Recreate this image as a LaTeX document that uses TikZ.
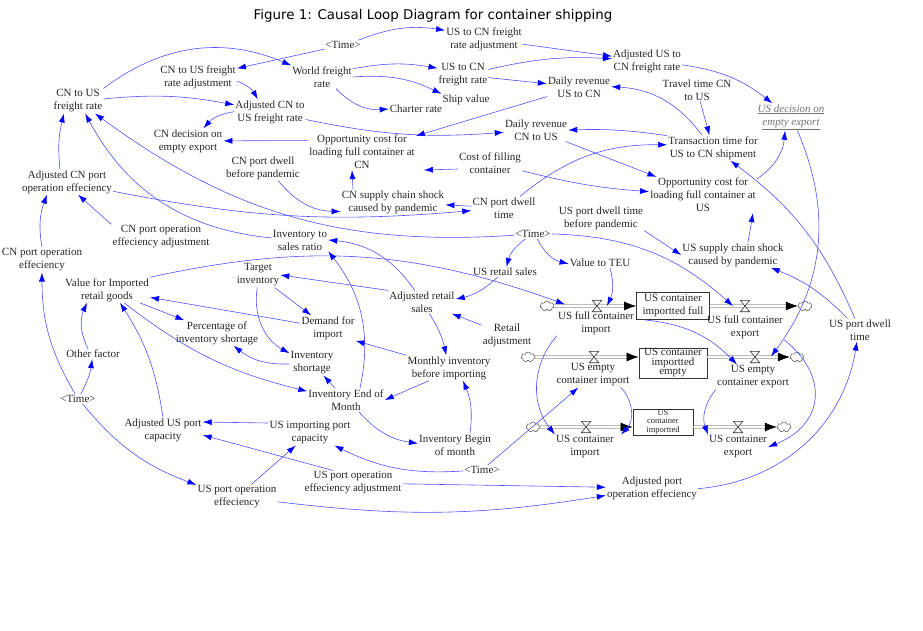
\documentclass[tikz,border=0pt]{standalone}
\usepackage{fontspec}
\setmainfont{Liberation Serif}
\newfontfamily\titlefont{DejaVu Sans}
\usetikzlibrary{arrows.meta,shapes.symbols}
\definecolor{linkblue}{RGB}{80,80,255}
\definecolor{tipblue}{RGB}{0,0,255}
\tikzset{
	var/.style={align=center, inner sep=1pt, font=\fontsize{11}{13}\selectfont, text=black!85},
	link/.style={draw=linkblue, line width=0.6pt, -{Latex[length=9pt,width=6pt,color=tipblue]}},
	stock/.style={draw=black!80, line width=0.7pt, align=center, inner sep=0.5pt, text=black!85},
	pipe/.style={draw=black!75, double=white, double distance=1.6pt, line width=0.6pt, -{Latex[length=12pt,width=9pt,color=black]}},
	sky/.style={cloud, cloud puffs=7, cloud ignores aspect, draw=black!70, fill=white, minimum width=14pt, minimum height=10pt, inner sep=0pt, line width=0.5pt}
}
\newcommand{\flowvalve}[3]{\node[inner sep=0pt, minimum width=9pt, minimum height=11pt] (#1) at (#2,#3) {}; \draw[black!80, fill=white, line width=0.6pt] (#1.north west) -- (#1.north east) -- (#1.south west) -- (#1.south east) -- cycle;}
\begin{document}
\begin{tikzpicture}[x=1pt, y=-1pt]
	\useasboundingbox (0,0) rectangle (923,630);
	\node[font=\titlefont\fontsize{13.4}{15}\selectfont] (title) at (433,16) {Figure 1: Causal Loop Diagram for container shipping};
	\node[var] (cnusrate) at (78,101) {CN to US\\freight rate};
	\node[var] (cnusadj) at (198,77) {CN to US freight\\rate adjustment};
	\node[var] (timea) at (343,45) {\textless Time\textgreater};
	\node[var] (worldrate) at (322,77) {World freight\\rate};
	\node[var] (uscnadj) at (484,39) {US to CN freight\\rate adjustment};
	\node[var] (uscnrate) at (463,75) {US to CN\\freight rate};
	\node[var] (shipvalue) at (466,100) {Ship value};
	\node[var] (charter) at (416,109) {Charter rate};
	\node[var] (adjuscn) at (647,61) {Adjusted US to\\CN freight rate};
	\node[var] (revuscn) at (579,87) {Daily revenue\\US to CN};
	\node[var] (adjcnus) at (270,112) {Adjusted CN to\\US freight rate};
	\node[var] (travel) at (697,90) {Travel time CN\\to US};
	\node[var, text=black!55, font=\fontsize{11}{13}\selectfont\itshape] (usdecision) at (791,117) {\underline{US decision on}\\\underline{empty export}};
	\node[var] (cndecision) at (188,141) {CN decision on\\empty export};
	\node[var] (oppcn) at (362,152) {Opportunity cost for\\loading full container at\\CN};
	\node[var] (revcnus) at (536,130) {Daily revenue\\CN to US};
	\node[var] (transtime) at (713,148) {Transaction time for\\US to CN shipment};
	\node[var] (cndwellpre) at (263,168) {CN port dwell\\before pandemic};
	\node[var] (fillcost) at (490,163) {Cost of filling\\container};
	\node[var] (adjcnport) at (67,182) {Adjusted CN port\\operation effeciency};
	\node[var] (oppus) at (703,195) {Opportunity cost for\\loading full container at\\US};
	\node[var] (cnshock) at (393,202) {CN supply chain shock\\caused by pandemic};
	\node[var] (cndwell) at (504,208) {CN port dwell\\time};
	\node[var] (usdwellpre) at (601,218) {US port dwell time\\before pandemic};
	\node[var] (timeb) at (533,234) {\textless Time\textgreater};
	\node[var] (cnportadj) at (161,237) {CN port operation\\effeciency adjustment};
	\node[var] (invsales) at (300,240) {Inventory to\\sales ratio};
	\node[var] (usshock) at (733,255) {US supply chain shock\\caused by pandemic};
	\node[var] (cnport) at (42,260) {CN port operation\\effeciency};
	\node[var] (valteu) at (600,263) {Value to TEU};
	\node[var] (usretail) at (505,272) {US retail sales};
	\node[var] (target) at (258,275) {Target\\inventory};
	\node[var] (valueimp) at (107,290) {Value for Imported\\retail goods};
	\node[var] (adjretail) at (422,302) {Adjusted retail\\sales};
	\node[var] (demand) at (328,328) {Demand for\\import};
	\node[var] (pctshort) at (217,333) {Percentage of\\inventory shortage};
	\node[var] (retailadj) at (507,335) {Retail\\adjustment};
	\node[var] (usdwell) at (860,330) {US port dwell\\time};
	\node[var] (other) at (93,354) {Other factor};
	\node[var] (invshort) at (312,363) {Inventory\\shortage};
	\node[var] (monthly) at (449,368) {Monthly inventory\\before importing};
	\node[var] (timec) at (78,399) {\textless Time\textgreater};
	\node[var] (invend) at (346,400) {Inventory End of\\Month};
	\node[var] (adjusport) at (163,430) {Adjusted US port\\capacity};
	\node[var] (usimpcap) at (310,433) {US importing port\\capacity};
	\node[var] (invbegin) at (455,445) {Inventory Begin\\of month};
	\node[var] (timed) at (482,470) {\textless Time\textgreater};
	\node[var] (usportadj) at (353,483) {US port operation\\effeciency adjustment};
	\node[var] (adjportop) at (652,488) {Adjusted port\\operation effeciency};
	\node[var] (usportop) at (237,497) {US port operation\\effeciency};
	\node[stock, minimum width=73pt, minimum height=27pt, font=\fontsize{11}{13}\selectfont] (stfull) at (673,306) {US container\\importted full};
	\node[stock, minimum width=68pt, minimum height=30pt, font=\fontsize{11}{9.5}\selectfont] (stempty) at (673,363) {US container\\importted\\empty};
	\node[stock, minimum width=60pt, minimum height=26pt, font=\fontsize{8.5}{8.5}\selectfont] (stall) at (663,422) {US\\container\\importted};
	\node[var] (fullimp) at (596,323) {US full container\\import};
	\node[var] (fullexp) at (745,327) {US full container\\export};
	\node[var] (emptyimp) at (593,375) {US empty\\container import};
	\node[var] (emptyexp) at (753,377) {US empty\\container export};
	\node[var] (contimp) at (585,447) {US container\\import};
	\node[var] (contexp) at (738,447) {US container\\export};
	\node[sky] (ca) at (547,306) {};
	\node[sky] (cb) at (805,306) {};
	\node[sky] (cc) at (528,357) {};
	\node[sky] (cd) at (797,357) {};
	\node[sky] (ce) at (533,427) {};
	\node[sky] (cf) at (784,427) {};
	\draw[pipe] (ca.east) -- (stfull.west);
	\draw[pipe] (stfull.east) -- (cb.west);
	\draw[pipe] (cc.east) -- ([yshift=6pt]stempty.west);
	\draw[pipe] ([yshift=6pt]stempty.east) -- (cd.west);
	\draw[pipe] (ce.east) -- ([yshift=-5pt]stall.west);
	\draw[pipe] ([yshift=-5pt]stall.east) -- (cf.west);
	\flowvalve{va}{597}{306}
	\flowvalve{vb}{745}{306}
	\flowvalve{vc}{594}{357}
	\flowvalve{vd}{755}{357}
	\flowvalve{ve}{586}{427}
	\flowvalve{vf}{738}{427}
	\draw[link] (timea) -- (cnusadj);
	\draw[link] (timea) to[bend left=15] (uscnadj);
	\draw[link] (cnusrate.north east) to[bend left=30] (worldrate.north west);
	\draw[link] (cnusrate) to[bend left=8] (adjcnus);
	\draw[link] (cnusadj) to[bend left=20] (adjcnus);
	\draw[link] (adjcnus) to[bend right=20] (cndecision);
	\draw[link] (oppcn.168) -- (cndecision);
	\draw[link] (adjcnus) to[bend right=8] (revcnus);
	\draw[link] (worldrate.15) to[bend left=10] (uscnrate.165);
	\draw[link] (worldrate.east) to[bend left=15] (shipvalue.north west);
	\draw[link] ([xshift=14pt]worldrate.south) to[bend right=25] (charter.west);
	\draw[link] (uscnadj) -- (adjuscn);
	\draw[link] (uscnrate) to[bend left=8] (adjuscn);
	\draw[link] (uscnrate) -- (revuscn);
	\draw[link] (revuscn) -- (oppcn);
	\draw[link] (transtime) to[bend right=25] (revuscn);
	\draw[link] (transtime.165) to[bend right=5] (revcnus.east);
	\draw[link] (travel) -- (transtime);
	\draw[link] (adjuscn) to[bend left=15] (usdecision);
	\draw[link] (oppus) to[bend right=25] (usdecision);
	\draw[link] (usdecision) to[bend left=30] ([xshift=18pt,yshift=8pt]emptyexp.north);
	\draw[link] (revcnus) -- (oppus);
	\draw[link] ([yshift=-6pt]fillcost.west) -- ([xshift=8pt,yshift=-18pt]oppcn.east);
	\draw[link] (fillcost) to[bend right=5] (oppus);
	\draw[link] (cndwell) to[bend left=20] (transtime);
	\draw[link] ([xshift=-40pt]cnshock.north) -- ([xshift=-10pt]oppcn.south);
	\draw[link] (cndwell) -- (cnshock);
	\draw[link] (cndwellpre) to[bend right=25] (cnshock);
	\draw[link] (adjcnport) to[bend right=8] (cndwell);
	\draw[link] (timeb) to[bend left=20] (cnusrate);
	\draw[link] (invsales) to[bend left=28] (cnusrate);
	\draw[link] ([xshift=-7pt]adjcnport.north) to[bend left=10] ([xshift=-14pt]cnusrate.south);
	\draw[link] (cnport.north) to[bend left=15] ([xshift=-20pt]adjcnport.south);
	\draw[link] (cnportadj.north west) -- ([xshift=11pt]adjcnport.south);
	\draw[link] (timec) to[bend left=15] (cnport);
	\draw[link] (timec) to[bend right=10] (other);
	\draw[link] ([xshift=-5pt]other.north) to[bend left=25] ([xshift=-20pt]valueimp.south);
	\draw[link] (adjusport.north) to[bend right=12] ([xshift=13pt]valueimp.south);
	\draw[link] (valueimp) -- (pctshort);
	\draw[link] (valueimp) to[bend right=12] (invend);
	\draw[link] (demand) -- (valueimp);
	\draw[link] (valueimp.north east) to[bend left=16] ([xshift=8pt,yshift=6pt]fullimp.north west);
	\draw[link] (adjretail.north west) -- (target.east);
	\draw[link] (target) -- (demand);
	\draw[link] (target) to[bend right=35] (invshort);
	\draw[link] (invshort) to[bend left=20] (pctshort);
	\draw[link] (invend) -- (invshort);
	\draw[link] ([xshift=14pt]invend.north) to[bend right=25] (invsales.south east);
	\draw[link] (adjretail) to[bend right=25] (invsales.east);
	\draw[link] (invend) to[bend right=20] (invbegin);
	\draw[link] ([xshift=-20pt]monthly.south) -- (invend.east);
	\draw[link] (monthly.north west) -- (demand.south east);
	\draw[link] (adjretail) to[bend left=10] (monthly);
	\draw[link] ([xshift=15pt]invbegin.north) to[bend right=15] ([xshift=14pt]monthly.south);
	\draw[link] (retailadj) -- (adjretail);
	\draw[link] (usretail) to[bend left=15] (adjretail);
	\draw[link] (timeb) to[bend right=20] (usretail);
	\draw[link] (timeb) to[bend right=25] (valteu);
	\draw[link] ([xshift=10pt]valteu.south) to[bend left=20] ([xshift=10pt]va.center);
	\draw[link] (timeb) to[bend left=20] ([xshift=-12pt]vb.center);
	\draw[link] (usdwellpre.south east) -- (usshock.west);
	\draw[link] ([xshift=15pt]usshock.north) -- ([xshift=50pt]oppus.south);
	\draw[link] (usdwell) to[bend right=12] (usshock);
	\draw[link] (usdwell) to[bend right=15] (transtime);
	\draw[link] (adjportop) to[bend right=38] (usdwell);
	\draw[link] (usportop) to[bend right=8] (adjportop);
	\draw[link] (usportadj) -- (adjportop);
	\draw[link] ([xshift=-20pt]usportadj.north) -- ([yshift=-5pt]adjusport.east);
	\draw[link] ([yshift=10pt]usimpcap.west) -- ([yshift=8pt]adjusport.east);
	\draw[link] (usportop) -- (usimpcap);
	\draw[link] (timec) to[bend right=15] (usportop);
	\draw[link] (timed) to[bend left=15] (usimpcap);
	\draw[link] (timed) -- (emptyimp);
	\draw[link] (fullimp.south west) to[bend right=40] (contimp.north west);
	\draw[link] ([xshift=-10pt]emptyimp.south east) to[bend left=45] ([xshift=6pt]contimp.north east);
	\draw[link] ([xshift=8pt]stfull.south west) to[bend left=20] ([xshift=-16pt]emptyexp.north);
	\draw[link] (emptyexp.south west) to[bend right=30] (contexp.north west);
	\draw[link] (fullexp.south east) to[bend left=60, looseness=1.4] (contexp.east);
\end{tikzpicture}
\end{document}
